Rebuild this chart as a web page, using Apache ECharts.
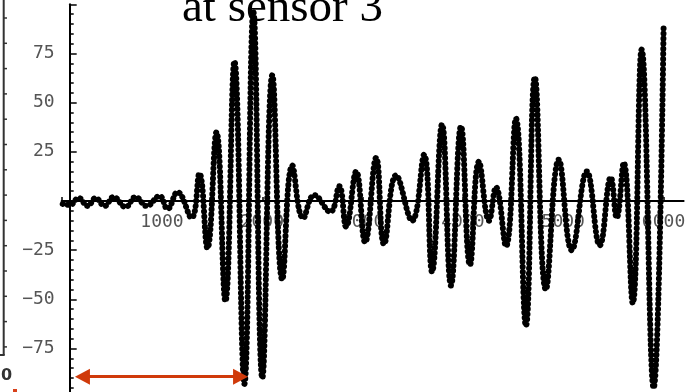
<!DOCTYPE html>
<html><head><meta charset="utf-8">
<script src="https://cdn.jsdelivr.net/npm/echarts@6/dist/echarts.min.js"></script>
<style>html,body{margin:0;padding:0;background:#fff}#c{width:685px;height:392px}</style>
</head><body><div id="c"></div>
<script>
// time samples (x) at the extrema
const sampleX = [10, 80, 169, 259, 338, 428, 517, 637, 736, 846, 975, 1055, 1154, 1294, 1373, 1453, 1543, 1632, 1722, 1821, 1911, 2000, 2100, 2199, 2299, 2408, 2518, 2677, 2767, 2836, 2936, 3025, 3135, 3214, 3334, 3493, 3613, 3692, 3792, 3881, 3981, 4070, 4160, 4260, 4329, 4429, 4528, 4628, 4717, 4827, 4956, 5085, 5235, 5364, 5474, 5533, 5603, 5693, 5782, 5901, 6001];
// signal at sensor 3
const sensor3 = [-1.5, -2, 1.5, -2.5, 1.5, -2.5, 2, -3, 2, -2.5, 2.5, -4, 4.5, -8.5, 14, -24, 35, -51, 71, -93, 96, -90, 64, -40, 18, -8.7, 3, -5.5, 7.5, -13, 15, -21, 22, -22, 13, -10, 23.5, -36, 39, -43, 38, -32.5, 20, -10, 7, -23, 42, -63.5, 63, -45, 21, -25, 15, -22.5, 12, -8.5, 19.5, -52, 77, -95, 90];
const xTicks = [1000, 2000, 3000, 4000, 5000, 6000];
const yTicks = [-75, -50, -25, 25, 50, 75];
const titleText = 'at sensor 3';
const arrowSpan = [207, 1783];
const arrowLevel = -89.3;

const chart = echarts.init(document.getElementById('c'), null, {renderer: 'canvas'});
const labelFont = {fontFamily: 'DejaVu Sans Mono', fontSize: 18, color: '#555'};

const leftTicks = [];
for (let i = 0; i < 14; i++) {
  const y = 18 + i * 25.3;
  leftTicks.push({type: 'line', shape: {x1: 3.7, y1: y, x2: 7, y2: y}, style: {stroke: '#333', lineWidth: 1.5}});
}

chart.setOption({
  animation: false,
  backgroundColor: '#fff',
  grid: {left: 61.7, right: 1.4, top: 4.3, bottom: -5.7, containLabel: false, outerBoundsMode: 'none'},
  xAxis: {
    type: 'value', min: 0, max: 6200, interval: 1000,
    position: 'bottom', offset: -196.7,
    axisLine: {onZero: false, lineStyle: {color: '#000', width: 2}},
    axisTick: {show: true, inside: true, length: 4, lineStyle: {color: '#000', width: 1.5}},
    splitLine: {show: false},
    axisLabel: Object.assign({margin: 12, showMaxLabel: false, hideOverlap: false,
      formatter: v => xTicks.includes(v) ? String(v) : ''}, labelFont)
  },
  yAxis: {
    type: 'value', min: -100, max: 100, interval: 25, offset: -8,
    axisLine: {onZero: false, lineStyle: {color: '#000', width: 2}},
    axisTick: {show: true, inside: true, length: 7, lineStyle: {color: '#000', width: 1.5}},
    minorTick: {show: true, splitNumber: 5, length: 4, lineStyle: {color: '#000', width: 1.5}},
    splitLine: {show: false},
    axisLabel: Object.assign({margin: 15,
      formatter: v => yTicks.includes(v) ? String(v).replace('-', '\u2212') : ''}, labelFont)
  },
  graphic: [
    {type: 'text', left: 182, top: -15, style: {text: titleText, font: '47px "Liberation Serif"', fill: '#000'}},
    {type: 'line', shape: {x1: 3.7, y1: 0, x2: 3.7, y2: 355}, style: {stroke: '#333', lineWidth: 2}},
    {type: 'line', shape: {x1: 0, y1: 355, x2: 4.7, y2: 355}, style: {stroke: '#333', lineWidth: 2}},
    ...leftTicks,
    {type: 'text', left: 1, top: 368, style: {text: '0', font: 'bold 16px "DejaVu Sans"', fill: '#333'}},
    {type: 'rect', shape: {x: 13, y: 389, width: 4, height: 3}, style: {fill: '#d8401a'}}
  ],
  series: [{
    type: 'line',
    data: sampleX.map((x, i) => [x, sensor3[i]]),
    smooth: 0.45,
    showSymbol: false,
    symbol: 'none',
    lineStyle: {color: '#000', width: 6, type: [0.1, 5], cap: 'round', join: 'round'},
    markLine: {
      silent: true,
      symbol: ['triangle', 'triangle'],
      symbolSize: [16, 15],
      label: {show: false},
      lineStyle: {color: '#d03a0a', width: 3, type: 'solid'},
      data: [[{coord: [arrowSpan[0], arrowLevel]}, {coord: [arrowSpan[1], arrowLevel]}]]
    }
  }]
});
</script></body></html>
